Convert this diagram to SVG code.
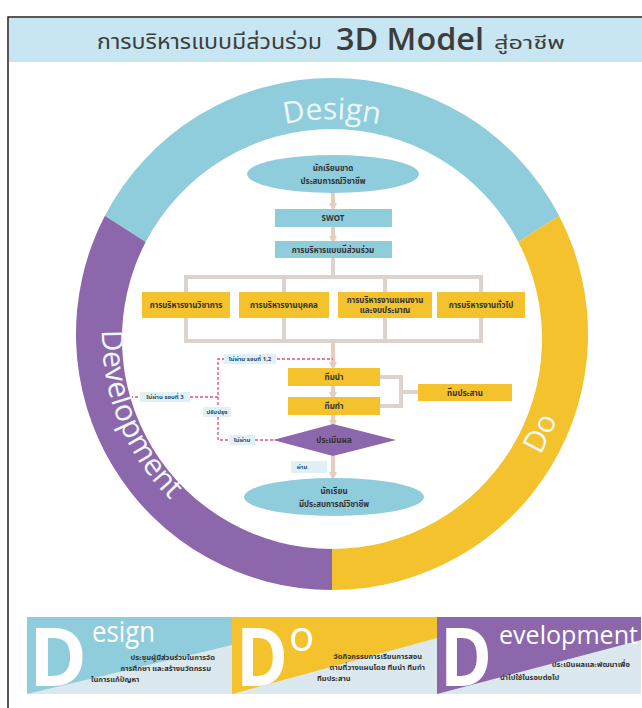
<svg xmlns="http://www.w3.org/2000/svg" width="642" height="708" viewBox="0 0 642 708">
<style>
.th{font-family:"Noto Sans","Noto Sans Thai","Liberation Sans",sans-serif;}
.bx{font-family:"Noto Sans","Noto Sans Thai","Liberation Sans",sans-serif;font-size:8px;font-weight:700;fill:#333;text-anchor:middle;}
.lb{font-family:"Noto Sans","Noto Sans Thai","Liberation Sans",sans-serif;font-size:6px;font-weight:700;fill:#2d4a6b;text-anchor:middle;}
.ring{font-family:"Open Sans","DejaVu Sans",sans-serif;font-size:30px;fill:#eef8fb;text-anchor:middle;}
.pt{font-family:"Noto Sans","Noto Sans Thai","Liberation Sans",sans-serif;font-size:7.5px;font-weight:700;fill:#333;}
.big{font-family:"Open Sans","DejaVu Sans",sans-serif;font-weight:700;fill:#fff;font-size:80px;}
.sm{font-family:"Open Sans","DejaVu Sans",sans-serif;fill:#fff;}
.blue{fill:#90cddc;}
.yel{fill:#f4c22c;}
.pur{fill:#8d67ab;}
.con{fill:none;stroke:#ddd3ce;stroke-width:4;}
.arr{fill:none;stroke:#e6cdbd;stroke-width:4;marker-end:url(#ah);}
.dash{fill:none;stroke:#e04f7d;stroke-width:1.3;stroke-dasharray:3 2;}
.lbg{fill:#dff0f6;}
</style>
<defs>
<marker id="ah" markerWidth="8" markerHeight="8" refX="4" refY="4" orient="auto" markerUnits="userSpaceOnUse">
<path d="M0,0 L8,4 L0,8 Z" fill="#e6cdbd"/>
</marker>
<path id="pDesign" d="M130 260.5 A215 215 0 0 1 534 260.5"/>
<path id="pDev" d="M121.9 242.5 A230 230 0 0 0 245.8 549.3"/>
<path id="pDo" d="M452 543.8 A240 240 0 0 0 568.4 294.3"/>
</defs>
<rect width="642" height="708" fill="#fff"/>
<g id="header">
<rect x="9" y="18" width="633" height="44" fill="#c8e6f1"/>
<path d="M8 708 V17 H642" fill="none" stroke="#222" stroke-width="1.5"/>
<text x="97" y="49" font-size="22" fill="#3d3d3d" class="th" textLength="225" lengthAdjust="spacingAndGlyphs">การบริหารแบบมีส่วนร่วม</text>
<text x="336" y="50" font-size="31" font-weight="600" fill="#3d3d3d" font-family="'Open Sans','Liberation Sans',sans-serif" textLength="148" lengthAdjust="spacingAndGlyphs">3D Model</text>
<text x="494" y="49" font-size="18" fill="#3d3d3d" class="th" textLength="71" lengthAdjust="spacingAndGlyphs">สู่อาชีพ</text>
</g>
<g id="ring">
<path class="blue" d="M104.9 215.8 A256 256 0 0 1 559.1 215.8 L518.3 242 A210 210 0 0 0 145.7 242 Z"/>
<path class="yel" d="M559.1 215.8 A256 256 0 0 1 332 590 L332 549 A210 210 0 0 0 518.3 242 Z"/>
<path class="pur" d="M332 590 A256 256 0 0 1 104.9 215.8 L145.7 242 A210 210 0 0 0 332 549 Z"/>
<text class="ring"><textPath href="#pDesign" startOffset="50%">Design</textPath></text>
<text class="ring"><textPath href="#pDev" startOffset="50%">Development</textPath></text>
<text class="ring"><textPath href="#pDo" startOffset="50%">Do</textPath></text>
</g>
<g id="connectors">
<line class="arr" x1="333" y1="193" x2="333" y2="207"/>
<line class="arr" x1="333" y1="227" x2="333" y2="240"/>
<path class="con" d="M333 258 V277 M186 292 V277 H481 V292 M284 277 V292 M385 277 V292"/>
<path class="con" d="M186 318 V341 H481 V318 M284 318 V341 M385 318 V341"/>
<line class="arr" x1="333" y1="341" x2="333" y2="366"/>
<line class="arr" x1="333" y1="386" x2="333" y2="396"/>
<path class="con" d="M380 377 H401 V406 H380 M401 392 H418"/>
<line class="arr" x1="333" y1="415" x2="333" y2="424"/>
<line class="arr" x1="333" y1="456" x2="333" y2="476"/>
<path class="dash" d="M273 440 H218 V359 H333 M218 397 H132"/>
</g>
<g id="n-start">
<ellipse class="blue" cx="333" cy="174" rx="86" ry="19"/>
<text class="bx" x="333" y="171">นักเรียนขาด</text>
<text class="bx" x="333" y="184">ประสบการณ์วิชาชีพ</text>
</g>
<g id="n-swot">
<rect class="blue" x="275" y="209" width="117" height="18"/>
<text class="bx" x="333" y="221">SWOT</text>
</g>
<g id="n-collab">
<rect class="blue" x="275" y="241" width="117" height="17"/>
<text class="bx" x="333" y="252.5">การบริหารแบบมีส่วนร่วม</text>
</g>
<g id="n-academic">
<rect class="yel" x="142" y="292" width="88" height="26"/>
<text class="bx" x="186" y="308">การบริหารงานวิชาการ</text>
</g>
<g id="n-personnel">
<rect class="yel" x="239" y="292" width="90" height="26"/>
<text class="bx" x="284" y="308">การบริหารงานบุคคล</text>
</g>
<g id="n-budget">
<rect class="yel" x="338" y="292" width="94" height="26"/>
<text class="bx" x="385" y="303">การบริหารงานแผนงาน</text>
<text class="bx" x="385" y="313">และงบประมาณ</text>
</g>
<g id="n-general">
<rect class="yel" x="437" y="292" width="88" height="26"/>
<text class="bx" x="481" y="308">การบริหารงานทั่วไป</text>
</g>
<g id="n-lead">
<rect class="yel" x="288" y="368" width="92" height="18"/>
<text class="bx" x="334" y="380">ทีมนำ</text>
</g>
<g id="n-do">
<rect class="yel" x="288" y="397" width="92" height="18"/>
<text class="bx" x="334" y="409">ทีมทำ</text>
</g>
<g id="n-coord">
<rect class="yel" x="418" y="384" width="94" height="17"/>
<text class="bx" x="465" y="395.5">ทีมประสาน</text>
</g>
<g id="n-eval">
<path class="pur" d="M273 440 L333 424 L396 440 L333 456 Z"/>
<text class="bx" x="334" y="443">ประเมินผล</text>
</g>
<g id="n-end">
<ellipse class="blue" cx="334" cy="497" rx="90" ry="19"/>
<text class="bx" x="334" y="494">นักเรียน</text>
<text class="bx" x="334" y="507">มีประสบการณ์วิชาชีพ</text>
</g>
<g id="labels">
<rect class="lbg" x="224" y="354" width="52" height="10"/>
<text class="lb" x="250" y="361">ไม่ผ่าน รอบที่ 1,2</text>
<rect class="lbg" x="140" y="392" width="50" height="10"/>
<text class="lb" x="165" y="399">ไม่ผ่าน รอบที่ 3</text>
<rect class="lbg" x="203" y="407" width="28" height="10"/>
<text class="lb" x="217" y="414">ปรับปรุง</text>
<rect class="lbg" x="229" y="435" width="26" height="10"/>
<text class="lb" x="242" y="442">ไม่ผ่าน</text>
<rect class="lbg" x="291" y="461" width="36" height="12"/>
<text class="lb" x="302" y="469">ผ่าน</text>
</g>
<g id="panel-design">
<rect x="27" y="617" width="205" height="77" fill="#dbe9ef"/>
<path class="blue" d="M27 617 H232 V645 L27 694 Z"/>
<text class="big" x="29" y="686" textLength="58" lengthAdjust="spacingAndGlyphs">D</text>
<text class="sm" x="92" y="642" font-size="29" textLength="63" lengthAdjust="spacingAndGlyphs">esign</text>
<text class="pt" x="215" y="660" text-anchor="end">ประชุมผู้มีส่วนร่วมในการจัด</text>
<text class="pt" x="211" y="671" text-anchor="end">การศึกษา และสร้างนวัตกรรม</text>
<text class="pt" x="91" y="682">ในการแก้ปัญหา</text>
</g>
<g id="panel-do">
<rect x="232" y="617" width="205" height="77" fill="#dbe9ef"/>
<path class="yel" d="M232 617 H437 V638 L232 694 Z"/>
<text class="big" x="236" y="686" textLength="52" lengthAdjust="spacingAndGlyphs">D</text>
<text class="sm" x="289" y="651" font-size="42">o</text>
<text class="pt" x="422" y="659" text-anchor="end">จัดกิจกรรมการเรียนการสอน</text>
<text class="pt" x="425" y="670" text-anchor="end">ตามที่วางแผนโดย ทีมนำ ทีมทำ</text>
<text class="pt" x="317" y="681">ทีมประสาน</text>
</g>
<g id="panel-dev">
<rect x="437" y="617" width="204" height="77" fill="#dbe9ef"/>
<path class="pur" d="M437 617 H641 V640 L437 694 Z"/>
<text class="big" x="440" y="686" textLength="52" lengthAdjust="spacingAndGlyphs">D</text>
<text class="sm" x="499" y="644" font-size="26" textLength="139" lengthAdjust="spacingAndGlyphs">evelopment</text>
<text class="pt" x="630" y="667" text-anchor="end">ประเมินผลและพัฒนาเพื่อ</text>
<text class="pt" x="500" y="680">นำไปใช้ในรอบต่อไป</text>
</g>
</svg>
